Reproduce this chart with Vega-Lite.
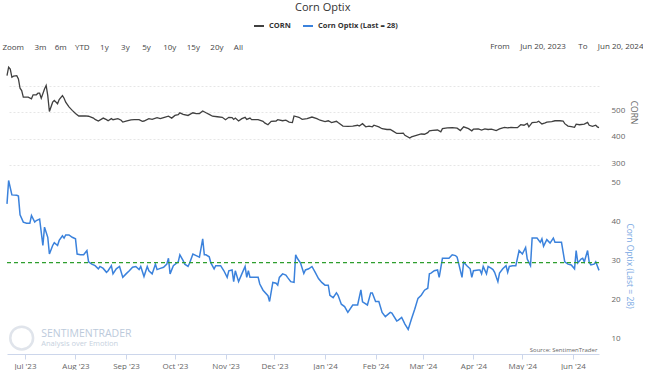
{
  "$schema": "https://vega.github.io/schema/vega-lite/v6.json",
  "padding": {"left": 2, "top": 2, "right": 0, "bottom": 0},
  "title": {"text": "Corn Optix", "fontSize": 11, "fontWeight": "normal", "color": "#333333", "font": "Open Sans", "anchor": "middle", "offset": 7},
  "spacing": 10,
  "datasets": {
    "corn": [
      {"date": "2023-06-20", "value": 637}, {"date": "2023-06-21", "value": 669}, {"date": "2023-06-22", "value": 662}, {"date": "2023-06-23", "value": 631}, {"date": "2023-06-24", "value": 635}, {"date": "2023-06-26", "value": 637}, {"date": "2023-06-27", "value": 625}, {"date": "2023-06-28", "value": 590}, {"date": "2023-06-29", "value": 581}, {"date": "2023-06-30", "value": 556},
      {"date": "2023-07-02", "value": 556}, {"date": "2023-07-03", "value": 556}, {"date": "2023-07-05", "value": 550}, {"date": "2023-07-06", "value": 565}, {"date": "2023-07-08", "value": 565}, {"date": "2023-07-09", "value": 571}, {"date": "2023-07-10", "value": 571}, {"date": "2023-07-11", "value": 552}, {"date": "2023-07-13", "value": 587}, {"date": "2023-07-14", "value": 600}, {"date": "2023-07-15", "value": 562}, {"date": "2023-07-16", "value": 502}, {"date": "2023-07-18", "value": 537}, {"date": "2023-07-19", "value": 544}, {"date": "2023-07-21", "value": 531}, {"date": "2023-07-22", "value": 547}, {"date": "2023-07-24", "value": 562}, {"date": "2023-07-25", "value": 552}, {"date": "2023-07-26", "value": 537}, {"date": "2023-07-28", "value": 519}, {"date": "2023-07-30", "value": 506},
      {"date": "2023-08-01", "value": 494}, {"date": "2023-08-03", "value": 485}, {"date": "2023-08-05", "value": 485}, {"date": "2023-08-07", "value": 485}, {"date": "2023-08-09", "value": 484}, {"date": "2023-08-12", "value": 477}, {"date": "2023-08-13", "value": 472}, {"date": "2023-08-15", "value": 466}, {"date": "2023-08-18", "value": 477}, {"date": "2023-08-20", "value": 471}, {"date": "2023-08-21", "value": 467}, {"date": "2023-08-23", "value": 475}, {"date": "2023-08-24", "value": 471}, {"date": "2023-08-27", "value": 475}, {"date": "2023-08-29", "value": 469}, {"date": "2023-08-30", "value": 462},
      {"date": "2023-09-01", "value": 466}, {"date": "2023-09-04", "value": 470}, {"date": "2023-09-06", "value": 471}, {"date": "2023-09-09", "value": 471}, {"date": "2023-09-11", "value": 465}, {"date": "2023-09-12", "value": 466}, {"date": "2023-09-15", "value": 475}, {"date": "2023-09-17", "value": 472}, {"date": "2023-09-20", "value": 479}, {"date": "2023-09-22", "value": 475}, {"date": "2023-09-24", "value": 479}, {"date": "2023-09-27", "value": 484}, {"date": "2023-09-29", "value": 477},
      {"date": "2023-10-01", "value": 487}, {"date": "2023-10-03", "value": 490}, {"date": "2023-10-04", "value": 497}, {"date": "2023-10-06", "value": 491}, {"date": "2023-10-09", "value": 487}, {"date": "2023-10-12", "value": 497}, {"date": "2023-10-14", "value": 494}, {"date": "2023-10-16", "value": 494}, {"date": "2023-10-18", "value": 504}, {"date": "2023-10-20", "value": 497}, {"date": "2023-10-22", "value": 491}, {"date": "2023-10-24", "value": 484}, {"date": "2023-10-27", "value": 482}, {"date": "2023-10-30", "value": 480},
      {"date": "2023-11-01", "value": 471}, {"date": "2023-11-03", "value": 480}, {"date": "2023-11-05", "value": 479}, {"date": "2023-11-06", "value": 472}, {"date": "2023-11-07", "value": 477}, {"date": "2023-11-09", "value": 466}, {"date": "2023-11-11", "value": 475}, {"date": "2023-11-13", "value": 480}, {"date": "2023-11-14", "value": 472}, {"date": "2023-11-16", "value": 477}, {"date": "2023-11-17", "value": 471}, {"date": "2023-11-21", "value": 471}, {"date": "2023-11-24", "value": 465}, {"date": "2023-11-25", "value": 459}, {"date": "2023-11-27", "value": 452}, {"date": "2023-11-29", "value": 465},
      {"date": "2023-12-02", "value": 466}, {"date": "2023-12-03", "value": 471}, {"date": "2023-12-06", "value": 467}, {"date": "2023-12-08", "value": 469}, {"date": "2023-12-10", "value": 462}, {"date": "2023-12-12", "value": 460}, {"date": "2023-12-13", "value": 485}, {"date": "2023-12-16", "value": 480}, {"date": "2023-12-18", "value": 472}, {"date": "2023-12-21", "value": 475}, {"date": "2023-12-24", "value": 481}, {"date": "2023-12-27", "value": 475}, {"date": "2023-12-29", "value": 469},
      {"date": "2024-01-01", "value": 464}, {"date": "2024-01-03", "value": 467}, {"date": "2024-01-05", "value": 460}, {"date": "2024-01-08", "value": 465}, {"date": "2024-01-09", "value": 460}, {"date": "2024-01-12", "value": 447}, {"date": "2024-01-15", "value": 446}, {"date": "2024-01-18", "value": 447}, {"date": "2024-01-21", "value": 450}, {"date": "2024-01-22", "value": 447}, {"date": "2024-01-24", "value": 456}, {"date": "2024-01-26", "value": 444}, {"date": "2024-01-28", "value": 447}, {"date": "2024-01-30", "value": 444}, {"date": "2024-01-31", "value": 450},
      {"date": "2024-02-03", "value": 444}, {"date": "2024-02-05", "value": 437}, {"date": "2024-02-08", "value": 434}, {"date": "2024-02-10", "value": 434}, {"date": "2024-02-12", "value": 427}, {"date": "2024-02-14", "value": 419}, {"date": "2024-02-16", "value": 419}, {"date": "2024-02-18", "value": 420}, {"date": "2024-02-19", "value": 412}, {"date": "2024-02-22", "value": 402}, {"date": "2024-02-23", "value": 406}, {"date": "2024-02-26", "value": 412}, {"date": "2024-02-29", "value": 417},
      {"date": "2024-03-02", "value": 416}, {"date": "2024-03-04", "value": 422}, {"date": "2024-03-05", "value": 429}, {"date": "2024-03-07", "value": 431}, {"date": "2024-03-10", "value": 432}, {"date": "2024-03-12", "value": 425}, {"date": "2024-03-13", "value": 437}, {"date": "2024-03-16", "value": 440}, {"date": "2024-03-19", "value": 441}, {"date": "2024-03-22", "value": 439}, {"date": "2024-03-24", "value": 430}, {"date": "2024-03-26", "value": 444}, {"date": "2024-03-29", "value": 437}, {"date": "2024-03-31", "value": 429},
      {"date": "2024-04-01", "value": 435}, {"date": "2024-04-04", "value": 436}, {"date": "2024-04-06", "value": 432}, {"date": "2024-04-08", "value": 436}, {"date": "2024-04-10", "value": 434}, {"date": "2024-04-12", "value": 435}, {"date": "2024-04-15", "value": 430}, {"date": "2024-04-17", "value": 436}, {"date": "2024-04-20", "value": 442}, {"date": "2024-04-22", "value": 440}, {"date": "2024-04-24", "value": 442}, {"date": "2024-04-26", "value": 441}, {"date": "2024-04-28", "value": 441}, {"date": "2024-04-30", "value": 452},
      {"date": "2024-05-02", "value": 450}, {"date": "2024-05-04", "value": 457}, {"date": "2024-05-05", "value": 444}, {"date": "2024-05-07", "value": 460}, {"date": "2024-05-10", "value": 462}, {"date": "2024-05-11", "value": 465}, {"date": "2024-05-13", "value": 455}, {"date": "2024-05-15", "value": 459}, {"date": "2024-05-16", "value": 462}, {"date": "2024-05-19", "value": 464}, {"date": "2024-05-21", "value": 467}, {"date": "2024-05-24", "value": 467}, {"date": "2024-05-26", "value": 466}, {"date": "2024-05-27", "value": 456}, {"date": "2024-05-29", "value": 447}, {"date": "2024-05-31", "value": 445},
      {"date": "2024-06-02", "value": 442}, {"date": "2024-06-03", "value": 454}, {"date": "2024-06-05", "value": 452}, {"date": "2024-06-08", "value": 454}, {"date": "2024-06-10", "value": 461}, {"date": "2024-06-11", "value": 450}, {"date": "2024-06-13", "value": 446}, {"date": "2024-06-15", "value": 450}, {"date": "2024-06-16", "value": 444}, {"date": "2024-06-17", "value": 441}
    ],
    "optix": [
      {"date": "2023-06-20", "value": 45.1}, {"date": "2023-06-21", "value": 51.1}, {"date": "2023-06-23", "value": 47.4}, {"date": "2023-06-26", "value": 47.3}, {"date": "2023-06-27", "value": 47.1}, {"date": "2023-06-28", "value": 42.3}, {"date": "2023-06-30", "value": 40.4},
      {"date": "2023-07-02", "value": 40.1}, {"date": "2023-07-04", "value": 40.1}, {"date": "2023-07-05", "value": 42.1}, {"date": "2023-07-07", "value": 40.4}, {"date": "2023-07-08", "value": 40.8}, {"date": "2023-07-10", "value": 41.2}, {"date": "2023-07-12", "value": 34.4}, {"date": "2023-07-13", "value": 39.1}, {"date": "2023-07-15", "value": 36.5}, {"date": "2023-07-16", "value": 32.2}, {"date": "2023-07-18", "value": 34.4}, {"date": "2023-07-19", "value": 35.1}, {"date": "2023-07-21", "value": 34.4}, {"date": "2023-07-22", "value": 35.7}, {"date": "2023-07-24", "value": 36.9}, {"date": "2023-07-25", "value": 36.3}, {"date": "2023-07-26", "value": 37.1}, {"date": "2023-07-28", "value": 37.1}, {"date": "2023-07-30", "value": 36.5},
      {"date": "2023-08-01", "value": 36.1}, {"date": "2023-08-02", "value": 32.2}, {"date": "2023-08-04", "value": 32.0}, {"date": "2023-08-06", "value": 32.0}, {"date": "2023-08-08", "value": 33.1}, {"date": "2023-08-09", "value": 30.2}, {"date": "2023-08-11", "value": 29.6}, {"date": "2023-08-13", "value": 29.2}, {"date": "2023-08-15", "value": 28.4}, {"date": "2023-08-16", "value": 29.0}, {"date": "2023-08-18", "value": 28.5}, {"date": "2023-08-20", "value": 27.5}, {"date": "2023-08-21", "value": 27.9}, {"date": "2023-08-23", "value": 29.2}, {"date": "2023-08-24", "value": 27.1}, {"date": "2023-08-26", "value": 28.4}, {"date": "2023-08-28", "value": 29.0}, {"date": "2023-08-30", "value": 26.2},
      {"date": "2023-09-01", "value": 27.1}, {"date": "2023-09-03", "value": 27.9}, {"date": "2023-09-05", "value": 28.8}, {"date": "2023-09-07", "value": 29.0}, {"date": "2023-09-09", "value": 28.2}, {"date": "2023-09-10", "value": 29.0}, {"date": "2023-09-12", "value": 26.4}, {"date": "2023-09-14", "value": 29.0}, {"date": "2023-09-15", "value": 27.9}, {"date": "2023-09-17", "value": 27.1}, {"date": "2023-09-19", "value": 29.6}, {"date": "2023-09-20", "value": 28.2}, {"date": "2023-09-22", "value": 28.5}, {"date": "2023-09-24", "value": 28.8}, {"date": "2023-09-26", "value": 29.6}, {"date": "2023-09-27", "value": 31.1}, {"date": "2023-09-28", "value": 27.1}, {"date": "2023-09-30", "value": 29.2},
      {"date": "2023-10-03", "value": 30.2}, {"date": "2023-10-04", "value": 32.0}, {"date": "2023-10-06", "value": 30.5}, {"date": "2023-10-07", "value": 29.6}, {"date": "2023-10-09", "value": 29.0}, {"date": "2023-10-10", "value": 29.9}, {"date": "2023-10-12", "value": 32.2}, {"date": "2023-10-14", "value": 31.8}, {"date": "2023-10-16", "value": 31.4}, {"date": "2023-10-18", "value": 36.1}, {"date": "2023-10-19", "value": 32.0}, {"date": "2023-10-20", "value": 32.0}, {"date": "2023-10-22", "value": 31.5}, {"date": "2023-10-23", "value": 29.9}, {"date": "2023-10-25", "value": 28.4}, {"date": "2023-10-26", "value": 29.2}, {"date": "2023-10-29", "value": 29.2}, {"date": "2023-10-31", "value": 27.9},
      {"date": "2023-11-02", "value": 26.2}, {"date": "2023-11-03", "value": 27.9}, {"date": "2023-11-05", "value": 28.1}, {"date": "2023-11-06", "value": 25.1}, {"date": "2023-11-07", "value": 27.9}, {"date": "2023-11-09", "value": 25.1}, {"date": "2023-11-11", "value": 27.1}, {"date": "2023-11-13", "value": 29.0}, {"date": "2023-11-14", "value": 26.2}, {"date": "2023-11-15", "value": 27.9}, {"date": "2023-11-16", "value": 26.2}, {"date": "2023-11-19", "value": 26.2}, {"date": "2023-11-21", "value": 26.2}, {"date": "2023-11-22", "value": 24.5}, {"date": "2023-11-24", "value": 22.9}, {"date": "2023-11-27", "value": 21.5}, {"date": "2023-11-28", "value": 20.0}, {"date": "2023-11-30", "value": 24.9},
      {"date": "2023-12-02", "value": 24.7}, {"date": "2023-12-03", "value": 24.2}, {"date": "2023-12-04", "value": 26.2}, {"date": "2023-12-06", "value": 27.1}, {"date": "2023-12-08", "value": 26.8}, {"date": "2023-12-09", "value": 26.2}, {"date": "2023-12-11", "value": 25.1}, {"date": "2023-12-13", "value": 24.9}, {"date": "2023-12-14", "value": 32.0}, {"date": "2023-12-15", "value": 31.1}, {"date": "2023-12-17", "value": 29.9}, {"date": "2023-12-19", "value": 27.2}, {"date": "2023-12-20", "value": 28.1}, {"date": "2023-12-22", "value": 28.4}, {"date": "2023-12-24", "value": 29.0}, {"date": "2023-12-26", "value": 27.5}, {"date": "2023-12-28", "value": 25.9}, {"date": "2023-12-30", "value": 24.9},
      {"date": "2024-01-01", "value": 24.2}, {"date": "2024-01-03", "value": 24.2}, {"date": "2024-01-04", "value": 21.6}, {"date": "2024-01-06", "value": 21.0}, {"date": "2024-01-08", "value": 22.2}, {"date": "2024-01-09", "value": 21.6}, {"date": "2024-01-11", "value": 19.3}, {"date": "2024-01-13", "value": 18.7}, {"date": "2024-01-15", "value": 17.2}, {"date": "2024-01-18", "value": 19.1}, {"date": "2024-01-21", "value": 19.1}, {"date": "2024-01-23", "value": 23.0}, {"date": "2024-01-24", "value": 19.9}, {"date": "2024-01-27", "value": 19.1}, {"date": "2024-01-29", "value": 22.2}, {"date": "2024-01-30", "value": 22.2},
      {"date": "2024-02-01", "value": 20.0}, {"date": "2024-02-03", "value": 20.0}, {"date": "2024-02-05", "value": 17.2}, {"date": "2024-02-07", "value": 16.1}, {"date": "2024-02-10", "value": 17.2}, {"date": "2024-02-11", "value": 17.0}, {"date": "2024-02-14", "value": 15.0}, {"date": "2024-02-15", "value": 15.2}, {"date": "2024-02-17", "value": 15.9}, {"date": "2024-02-19", "value": 14.2}, {"date": "2024-02-21", "value": 12.8}, {"date": "2024-02-23", "value": 15.5}, {"date": "2024-02-25", "value": 18.0}, {"date": "2024-02-27", "value": 20.8}, {"date": "2024-02-29", "value": 21.6},
      {"date": "2024-03-02", "value": 22.9}, {"date": "2024-03-04", "value": 23.4}, {"date": "2024-03-05", "value": 27.1}, {"date": "2024-03-06", "value": 27.3}, {"date": "2024-03-08", "value": 27.9}, {"date": "2024-03-10", "value": 28.1}, {"date": "2024-03-11", "value": 26.2}, {"date": "2024-03-13", "value": 31.1}, {"date": "2024-03-16", "value": 31.1}, {"date": "2024-03-17", "value": 31.1}, {"date": "2024-03-19", "value": 32.0}, {"date": "2024-03-21", "value": 31.8}, {"date": "2024-03-22", "value": 31.4}, {"date": "2024-03-25", "value": 26.2}, {"date": "2024-03-26", "value": 30.1}, {"date": "2024-03-28", "value": 29.2}, {"date": "2024-03-30", "value": 28.4}, {"date": "2024-03-31", "value": 26.2},
      {"date": "2024-04-01", "value": 27.9}, {"date": "2024-04-04", "value": 28.1}, {"date": "2024-04-05", "value": 28.1}, {"date": "2024-04-06", "value": 27.1}, {"date": "2024-04-07", "value": 29.0}, {"date": "2024-04-09", "value": 27.1}, {"date": "2024-04-10", "value": 29.0}, {"date": "2024-04-12", "value": 28.5}, {"date": "2024-04-13", "value": 28.2}, {"date": "2024-04-14", "value": 27.5}, {"date": "2024-04-16", "value": 25.1}, {"date": "2024-04-17", "value": 27.3}, {"date": "2024-04-19", "value": 28.4}, {"date": "2024-04-21", "value": 29.2}, {"date": "2024-04-22", "value": 27.5}, {"date": "2024-04-23", "value": 29.0}, {"date": "2024-04-25", "value": 29.2}, {"date": "2024-04-27", "value": 29.2}, {"date": "2024-04-29", "value": 33.1},
      {"date": "2024-05-01", "value": 32.2}, {"date": "2024-05-03", "value": 33.9}, {"date": "2024-05-04", "value": 30.9}, {"date": "2024-05-06", "value": 29.2}, {"date": "2024-05-07", "value": 36.3}, {"date": "2024-05-10", "value": 36.3}, {"date": "2024-05-12", "value": 35.2}, {"date": "2024-05-13", "value": 36.1}, {"date": "2024-05-14", "value": 34.2}, {"date": "2024-05-16", "value": 35.9}, {"date": "2024-05-18", "value": 35.0}, {"date": "2024-05-20", "value": 36.3}, {"date": "2024-05-21", "value": 35.2}, {"date": "2024-05-23", "value": 35.2}, {"date": "2024-05-25", "value": 35.2}, {"date": "2024-05-27", "value": 30.2}, {"date": "2024-05-29", "value": 29.6}, {"date": "2024-05-31", "value": 29.4},
      {"date": "2024-06-02", "value": 28.4}, {"date": "2024-06-03", "value": 33.1}, {"date": "2024-06-04", "value": 29.9}, {"date": "2024-06-06", "value": 30.9}, {"date": "2024-06-07", "value": 31.1}, {"date": "2024-06-08", "value": 30.2}, {"date": "2024-06-10", "value": 33.1}, {"date": "2024-06-11", "value": 30.1}, {"date": "2024-06-12", "value": 29.4}, {"date": "2024-06-14", "value": 29.6}, {"date": "2024-06-15", "value": 30.2}, {"date": "2024-06-17", "value": 28.0}
    ]
  },
  "vconcat": [
    {
      "width": 592,
      "height": 106,
      "title": {"text": "Zoom\u00a0\u00a0\u00a0\u00a0\u00a03m\u00a0\u00a0\u00a0\u00a06m\u00a0\u00a0\u00a0\u00a0YTD\u00a0\u00a0\u00a0\u00a0\u00a01y\u00a0\u00a0\u00a0\u00a0\u00a0\u00a03y\u00a0\u00a0\u00a0\u00a0\u00a0\u00a05y\u00a0\u00a0\u00a0\u00a0\u00a0\u00a010y\u00a0\u00a0\u00a0\u00a0\u00a015y\u00a0\u00a0\u00a0\u00a0\u00a020y\u00a0\u00a0\u00a0\u00a0\u00a0All", "anchor": "start", "fontSize": 8, "fontWeight": "normal", "color": "#444444", "offset": -10, "dx": -2},
      "data": {"name": "corn"},
      "mark": {"type": "line", "strokeWidth": 1.3},
      "encoding": {
        "x": {"field": "date", "type": "temporal", "axis": {"orient": "top", "labels": false, "ticks": false, "domain": false, "grid": false, "title": "From\u00a0\u00a0\u00a0\u00a0\u00a0Jun 20, 2023\u00a0\u00a0\u00a0\u00a0\u00a0\u00a0To\u00a0\u00a0\u00a0\u00a0\u00a0Jun 20, 2024", "titleAnchor": null, "titleAlign": "right", "titleX": 636, "titleFontSize": 8, "titleFontWeight": "normal", "titleColor": "#444444", "titlePadding": 9}},
        "y": {"field": "value", "type": "quantitative", "scale": {"domain": [300, 700], "nice": false, "zero": false}, "axis": {"orient": "right", "values": [300, 400, 500, 600], "labelExpr": "datum.value == 600 ? '' : datum.label", "title": "CORN", "labelPadding": 12, "titlePadding": 4}},
        "color": {"datum": "CORN", "type": "nominal", "scale": {"domain": ["CORN", "Corn Optix (Last = 28)"], "range": ["#404040", "#3b82dc"]}, "legend": {"orient": "none", "legendX": 246, "legendY": -39, "direction": "horizontal", "title": null, "symbolType": "stroke", "symbolStrokeWidth": 2, "symbolSize": 100, "labelFontSize": 7.5, "labelFontWeight": "bold", "labelColor": "#333333", "columnPadding": 8, "labelFont": "Open Sans"}}
      }
    },
    {
      "width": 592,
      "height": 177,
      "layer": [
        {
          "data": {"values": [{}]},
          "mark": {"type": "point", "shape": "circle", "size": 520, "filled": false, "color": "#d3dae3", "strokeWidth": 2.5},
          "encoding": {"x": {"datum": {"year": 2023, "month": 6, "date": 29}, "type": "temporal"}, "y": {"datum": 10.6}}
        },
        {
          "data": {"values": [{}]},
          "mark": {"type": "text", "align": "left", "baseline": "middle", "fontSize": 10.5, "color": "#bccadb", "font": "Open Sans"},
          "encoding": {"x": {"datum": {"year": 2023, "month": 7, "date": 11}, "type": "temporal"}, "y": {"datum": 11.7}, "text": {"value": "SENTIMENTRADER"}}
        },
        {
          "data": {"values": [{}]},
          "mark": {"type": "text", "align": "left", "baseline": "middle", "fontSize": 7.5, "color": "#c6d1de", "font": "Open Sans"},
          "encoding": {"x": {"datum": {"year": 2023, "month": 7, "date": 11}, "type": "temporal"}, "y": {"datum": 9.0}, "text": {"value": "Analysis over Emotion"}}
        },
        {
          "data": {"name": "optix"},
          "mark": {"type": "line", "strokeWidth": 1.5},
          "encoding": {
            "x": {"field": "date", "type": "temporal", "axis": {"format": "%b '%y", "tickCount": {"interval": "month", "step": 1}, "grid": false, "domain": true, "domainColor": "#ccd6eb", "ticks": true, "tickColor": "#ccd6eb", "tickSize": 5, "labelPadding": 3, "title": null}},
            "y": {"field": "value", "type": "quantitative", "scale": {"domain": [6.5, 52], "nice": false, "zero": false}, "axis": {"orient": "right", "values": [10, 15, 20, 25, 30, 35, 40, 45, 50], "title": "Corn Optix (Last = 28)", "titleColor": "#7aa9e3", "labelPadding": 12, "titlePadding": 4}},
            "color": {"datum": "Corn Optix (Last = 28)", "type": "nominal", "scale": {"domain": ["CORN", "Corn Optix (Last = 28)"], "range": ["#404040", "#3b82dc"]}}
          }
        },
        {
          "data": {"values": [{}]},
          "mark": {"type": "rule", "color": "#2e9e2e", "strokeDash": [4, 3], "strokeWidth": 1.4},
          "encoding": {"y": {"datum": 30}}
        },
        {
          "data": {"values": [{}]},
          "mark": {"type": "text", "align": "right", "baseline": "middle", "fontSize": 6, "color": "#666666", "font": "Open Sans"},
          "encoding": {"x": {"datum": {"year": 2024, "month": 6, "date": 16}, "type": "temporal"}, "y": {"datum": 7.6}, "text": {"value": "Source: SentimenTrader"}}
        }
      ]
    }
  ],
  "resolve": {"scale": {"color": "shared"}, "legend": {"color": "shared"}},
  "config": {
    "view": {"stroke": null},
    "font": "Open Sans",
    "axis": {"labelFont": "Open Sans", "titleFont": "Open Sans", "labelFontSize": 8, "labelColor": "#666666", "gridColor": "#e6e6e6", "gridDash": [2, 2], "domain": false, "ticks": false, "titleFontWeight": "normal", "titleFontSize": 8.5, "titleColor": "#666666"},
    "axisY": {"labelBaseline": "alphabetic"}
  }
}
